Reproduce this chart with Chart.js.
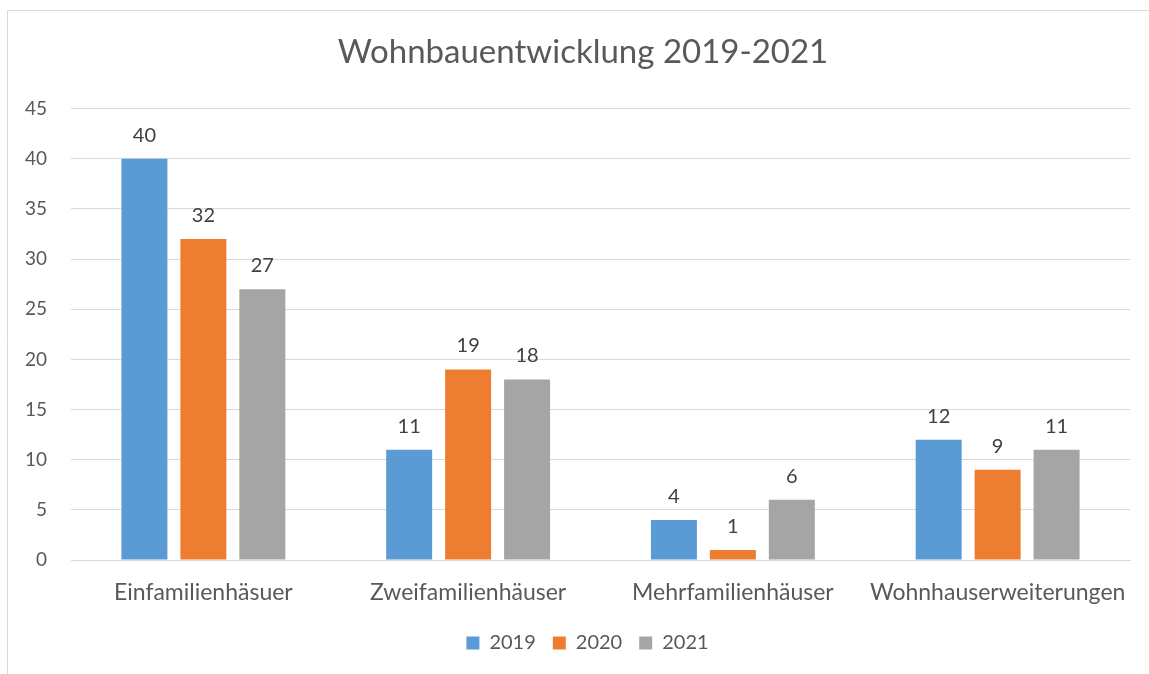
<!DOCTYPE html>
<html>
<head>
<meta charset="utf-8">
<script src="https://cdn.jsdelivr.net/npm/chart.js@4.4.0/dist/chart.umd.min.js"></script>
<style>
html,body{margin:0;padding:0;background:#fff;}
#wrap{position:absolute;left:0;top:0;width:1149px;height:674px;}
</style>
</head>
<body>
<div id="wrap"><canvas id="c" width="1149" height="674"></canvas></div>
<script>
const categories = ["Einfamilienhäsuer", "Zweifamilienhäuser", "Mehrfamilienhäuser", "Wohnhauserweiterungen"];
const seriesNames = ["2019", "2020", "2021"];
const values2019 = [40, 11, 4, 12];
const values2020 = [32, 19, 1, 9];
const values2021 = [27, 18, 6, 11];
const yTicks = [0, 5, 10, 15, 20, 25, 30, 35, 40, 45];
const titleText = "Wohnbauentwicklung 2019-2021";

const colors = ["#5B9BD5", "#ED7D31", "#A5A5A5"];
const textColor = "#595959";
const fontFamily = "Lato, 'Open Sans', sans-serif";

const borderPlugin = {
  id: 'frame',
  beforeDraw(chart) {
    const ctx = chart.ctx;
    ctx.save();
    ctx.fillStyle = '#fff';
    ctx.fillRect(0, 0, chart.width, chart.height);
    ctx.strokeStyle = '#d9d9d9';
    ctx.lineWidth = 1;
    ctx.beginPath();
    ctx.moveTo(7.5, chart.height);
    ctx.lineTo(7.5, 10.5);
    ctx.lineTo(chart.width, 10.5);
    ctx.stroke();
    ctx.restore();
  }
};

// centre title and legend on the (wider) chart frame, as in the original
const blockShift = {
  id: 'blockShift',
  afterLayout(chart) {
    if (chart.titleBlock) {
      chart.titleBlock.left = 36;
      chart.titleBlock.right = 1130;
    }
    if (chart.legend) {
      chart.legend.left = 45;
      chart.legend.right = 1130;
    }
  }
};

const labelPlugin = {
  id: 'valueLabels',
  afterDatasetsDraw(chart) {
    const ctx = chart.ctx;
    ctx.save();
    ctx.font = "20px " + fontFamily;
    ctx.fillStyle = "#404040";
    ctx.textAlign = 'center';
    ctx.textBaseline = 'alphabetic';
    chart.data.datasets.forEach((ds, i) => {
      const meta = chart.getDatasetMeta(i);
      meta.data.forEach((bar, j) => {
        ctx.fillText(String(ds.data[j]), bar.x, bar.y - 17);
      });
    });
    ctx.restore();
  }
};

new Chart(document.getElementById('c'), {
  type: 'bar',
  data: {
    labels: categories,
    datasets: [
      { label: seriesNames[0], data: values2019, backgroundColor: colors[0] },
      { label: seriesNames[1], data: values2020, backgroundColor: colors[1] },
      { label: seriesNames[2], data: values2021, backgroundColor: colors[2] }
    ]
  },
  options: {
    responsive: false,
    animation: false,
    devicePixelRatio: 1,
    layout: { padding: { left: 0, right: 19, top: 0, bottom: 11 } },
    datasets: { bar: { categoryPercentage: 0.668, barPercentage: 0.78 } },
    plugins: {
      title: {
        display: true,
        text: titleText,
        color: textColor,
        font: { family: fontFamily, size: 33, weight: 'normal' },
        padding: { top: 33, bottom: 36 }
      },
      legend: {
        position: 'bottom',
        labels: {
          color: textColor,
          font: { family: fontFamily, size: 20 },
          boxWidth: 13,
          boxHeight: 13,
          padding: 17
        }
      },
      tooltip: { enabled: false }
    },
    scales: {
      x: {
        grid: { display: false },
        border: { color: '#d9d9d9' },
        ticks: { color: textColor, font: { family: fontFamily, size: 23 }, padding: 11 },
        afterFit(scale) { scale.height = 56; }
      },
      y: {
        min: 0, max: 45,
        afterBuildTicks(scale) { scale.ticks = yTicks.map(v => ({ value: v })); },
        grid: { color: '#d9d9d9', drawTicks: false },
        border: { display: false },
        ticks: { color: textColor, font: { family: fontFamily, size: 19 }, padding: 24 },
        afterFit(scale) { scale.width = 71; }
      }
    }
  },
  plugins: [borderPlugin, blockShift, labelPlugin]
});
</script>
</body>
</html>
